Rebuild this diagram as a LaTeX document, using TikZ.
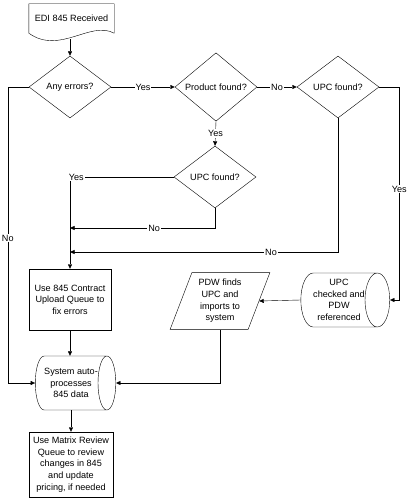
\documentclass[tikz,border=0pt]{standalone}
\usepackage{fontspec}
\setmainfont{Liberation Sans}
\usetikzlibrary{shapes.geometric,arrows.meta}

\begin{document}
\begin{tikzpicture}[x=1pt,y=-1pt,>={Triangle[length=4.5pt,width=4pt]},
		every node/.style={font=\fontsize{9.1}{11.6}\selectfont,align=center,inner sep=1pt},
		decision/.style={diamond,draw,minimum width=82pt,minimum height=62pt,inner sep=0pt},
		procbox/.style={rectangle,draw,minimum width=82pt,minimum height=61pt},
		store/.style={cylinder,draw,shape aspect=0.6,inner sep=0pt,minimum width=54pt,minimum height=80pt},
		lbl/.style={fill=white,inner sep=1pt}]
			\useasboundingbox (0,0) rectangle (411,500);
			
			\begin{scope}
				\node[minimum width=85pt,minimum height=29pt] (edi) at (71.5,18.5) {EDI 845 Received};
				\node[decision] (err) at (70,87) {Any errors?};
				\node[decision] (prod) at (216,87) {Product found?};
				\node[decision] (upcA) at (338,87) {UPC found?};
				\node[decision] (upcB) at (215,177) {UPC found?};
				\node[procbox] (fix) at (70,299.5) {Use 845 Contract\\Upload Queue to\\fix errors};
				\node[store] (sys) at (71,383) {System auto-\\processes\\845 data};
				\node[store] (chk) at (339,300) {UPC\\checked and\\PDW\\referenced};
				\node[trapezium,draw,trapezium left angle=69,trapezium right angle=111,
					minimum width=100pt,minimum height=52pt,inner sep=0pt] (pdw) at (220,301) {PDW finds\\UPC and\\imports to\\system};
				\node[procbox,minimum width=84pt,minimum height=65pt] (mat) at (71,464.5) {Use Matrix Review\\Queue to review\\changes in 845\\and update\\pricing, if needed};
				\coordinate (edib) at (70,39);
				\coordinate (jA) at (70,228);
				\coordinate (jB) at (70,252);
			\end{scope}
			
			% document outline with wavy bottom
			\draw (edi.south west) -- (edi.north west) -- (edi.north east) -- (edi.south east)
				.. controls +(-24,-13) and +(31,22) .. (edi.south west);
			
			\begin{scope}
				\draw[->] (edib) -- (err.north);
				\draw[->] (err.east) -- (prod.west) node[lbl,midway] {Yes};
				\draw[->] (prod.east) -- (upcA.west) node[lbl,midway] {No};
				\draw[->] (upcA.east) -- ++(20,0) |- (chk.east) node[lbl,pos=0.24] {Yes};
				\draw[->] (prod.south) -- (upcB.north) node[lbl,midway] {Yes};
				\draw[->] (upcB.west) -| (fix.north) node[lbl,pos=0.47] {Yes};
				\draw[->] (upcB.south) |- (jA) node[lbl,pos=0.71] {No};
				\draw[->] (upcA.south) |- (jB) node[lbl,pos=0.625] {No};
				\draw[->] (err.west) -- ++(-21,0) |- (sys.west) node[lbl,pos=0.255] {No};
				\draw[->] (fix.south) -- (fix.south |- sys.north);
				\draw[->] (chk.west) -- (pdw.east);
				\draw[->] (pdw.south) |- (sys.east);
				\draw[->] (sys.south -| mat.north) -- (mat.north);
			\end{scope}
		\end{tikzpicture}
\end{document}
